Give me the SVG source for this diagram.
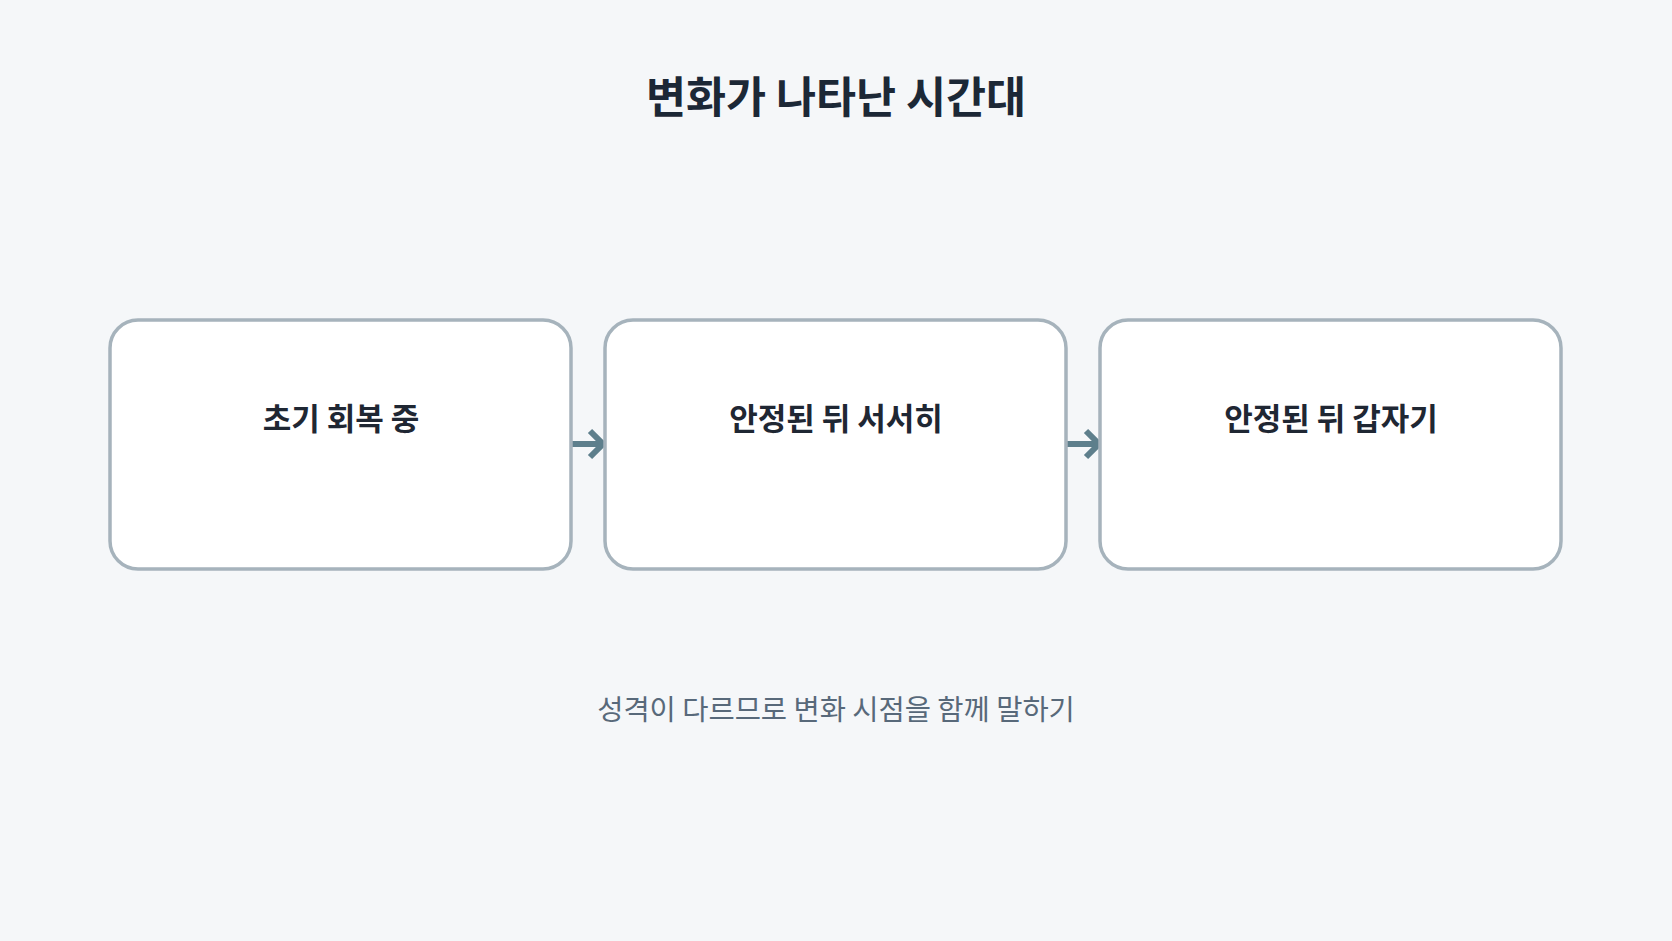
<svg xmlns="http://www.w3.org/2000/svg" width="1672" height="941" viewBox="0 0 1672 941">
<style>
.bg{fill:#f5f7f9}
.box{fill:#ffffff;stroke:#a6b3bc;stroke-width:3.5}
.title{font-family:"Noto Sans CJK KR","Noto Sans",sans-serif;font-weight:700;font-size:43.5px;fill:#1c2836;text-anchor:middle}
.label{font-family:"Noto Sans CJK KR","Noto Sans",sans-serif;font-weight:700;font-size:31px;fill:#1f2733;text-anchor:middle}
.note{font-family:"Noto Sans CJK KR","Noto Sans",sans-serif;font-weight:400;font-size:28.5px;fill:#58697a;text-anchor:middle}
.conn{fill:none;stroke:#5e7f8c;stroke-width:6}
.head{fill:none;stroke:#5e7f8c;stroke-width:6;stroke-linejoin:miter;stroke-linecap:butt}
</style>
<rect class="bg" x="0" y="0" width="1672" height="941"/>
<text id="title" class="title" x="836" y="113">변화가 나타난 시간대</text>
<g id="connectors">
<line class="conn" x1="572" y1="444" x2="600" y2="444"/>
<polyline class="head" points="590,431 603,444 590,457"/>
<line class="conn" x1="1066" y1="444" x2="1096" y2="444"/>
<polyline class="head" points="1086,431 1099,444 1086,457"/>
</g>
<g id="node1">
<rect class="box" x="110" y="320" width="461" height="249" rx="28"/>
<text class="label" x="341" y="430">초기 회복 중</text>
</g>
<g id="node2">
<rect class="box" x="605" y="320" width="461" height="249" rx="28"/>
<text class="label" x="836" y="430">안정된 뒤 서서히</text>
</g>
<g id="node3">
<rect class="box" x="1100" y="320" width="461" height="249" rx="28"/>
<text class="label" x="1331" y="430">안정된 뒤 갑자기</text>
</g>
<text id="note" class="note" x="836" y="720">성격이 다르므로 변화 시점을 함께 말하기</text>
</svg>
